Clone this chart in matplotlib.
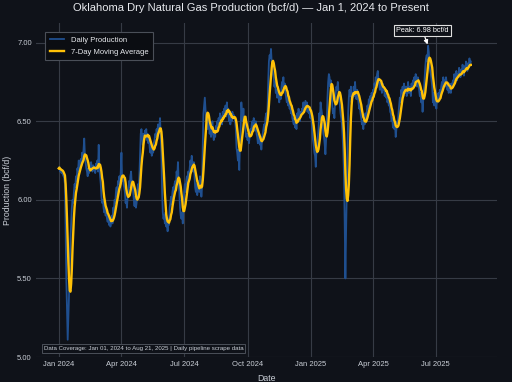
import numpy as np
import pandas as pd
import matplotlib
matplotlib.use("Agg")
import matplotlib.pyplot as plt
import matplotlib.dates as mdates

# Daily production, hundredths of bcf/d, one list per month
p2024_01 = [620,621,618,619,617,618,616,615,614,610,580,550,530,511,525,540,560,575,585,595,600,598,605,610,608,615,612,620,618,625,622]
p2024_02 = [620,626,622,630,625,632,639,628,624,620,618,615,620,617,622,619,624,620,618,622,619,621,617,623,620,625,618,635,620]
p2024_03 = [615,610,602,598,600,595,592,597,590,593,588,586,590,584,588,583,586,590,585,595,592,600,598,605,608,602,612,610,615,608,618]
p2024_04 = [630,612,615,610,608,605,598,600,595,602,605,612,608,615,618,610,612,605,600,596,602,595,598,605,610,605,615,628,642,645]
p2024_05 = [640,635,642,638,644,640,645,638,642,636,640,633,630,635,628,632,630,636,638,642,640,645,642,648,644,647,652,640,630,605,592]
p2024_06 = [588,590,585,592,583,586,580,588,584,595,598,602,597,605,608,603,610,612,608,618,615,624,612,605,595,590,588,592,585,595]
p2024_07 = [605,610,605,612,615,610,618,614,620,625,622,628,620,618,624,615,608,605,610,603,608,612,605,615,610,602,608,635,655,660,665]
p2024_08 = [658,650,655,645,652,648,642,646,640,645,650,642,638,644,640,647,643,650,646,652,648,655,650,653,648,656,652,658,655,660,653]
p2024_09 = [662,655,658,650,655,648,653,650,656,652,654,652,650,645,633,630,625,632,619,635,645,662,655,650,658,648,652,645,640,642]
p2024_10 = [638,642,636,640,645,642,648,650,645,652,647,644,650,642,640,636,642,638,635,640,632,638,642,645,648,644,652,655,650,658,675]
p2024_11 = [688,692,690,696,688,685,680,678,672,675,668,670,665,672,666,662,668,664,670,675,672,678,670,674,668,665,662,666,660,663]
p2024_12 = [658,660,655,657,652,650,648,652,646,650,645,655,652,658,654,650,656,653,658,655,662,657,660,663,658,662,656,660,655,658,652]
p2025_01 = [655,650,642,638,635,630,628,621,632,630,640,645,655,650,662,658,655,648,642,640,635,629,638,650,665,675,680,678,672,676,670]
p2025_02 = [660,655,658,652,662,668,672,670,675,668,665,660,655,652,648,640,630,615,585,550,580,605,630,655,665,670,666,672]
p2025_03 = [662,668,665,672,666,675,668,664,670,666,662,658,660,655,652,648,650,645,652,648,655,650,656,660,658,664,660,666,662,668,665]
p2025_04 = [670,668,674,672,678,675,680,682,676,674,670,675,672,668,674,670,672,666,670,665,668,662,665,660,662,656,655,650,652,646]
p2025_05 = [650,645,648,640,645,650,648,655,660,665,662,670,668,672,666,674,670,668,672,666,670,675,668,672,670,666,674,670,676,672,678]
p2025_06 = [674,680,676,672,678,674,670,666,668,662,665,656,664,670,678,685,690,692,688,698,694,686,682,680,676,672,662,668,660,664]
p2025_07 = [662,658,665,662,668,664,670,666,672,675,670,678,674,676,672,678,674,670,672,668,674,670,668,674,672,676,674,680,676,678,682]
p2025_08 = [676,680,678,684,680,678,683,680,686,682,679,685,682,688,684,682,687,684,690,686,688]

months = [p2024_01, p2024_02, p2024_03, p2024_04, p2024_05, p2024_06,
          p2024_07, p2024_08, p2024_09, p2024_10, p2024_11, p2024_12,
          p2025_01, p2025_02, p2025_03, p2025_04, p2025_05, p2025_06,
          p2025_07, p2025_08]
start_date = "2024-01-01"
series_names = ["Daily Production", "7-Day Moving Average"]
title_text = "Oklahoma Dry Natural Gas Production (bcf/d) \u2014 Jan 1, 2024 to Present"
coverage_text = "Data Coverage: Jan 01, 2024 to Aug 21, 2025 | Daily pipeline scrape data"

values = np.concatenate([np.array(m, dtype=float) for m in months]) / 100.0
dates = pd.date_range(start_date, periods=len(values), freq="D")
s = pd.Series(values, index=dates)
ma = s.rolling(7, min_periods=1).mean()

BG = "#0f1219"
GRID = "#363b45"
TXT = "#c9ced6"

plt.rcParams["font.family"] = ["Liberation Sans", "DejaVu Sans"]
fig = plt.figure(figsize=(5.12, 3.82), dpi=100, facecolor=BG)
ax = fig.add_axes([0.0703, 0.0654, 0.9004, 0.8744], facecolor=BG)

ax.plot(s.index, s.values, color="#1f4f8f", lw=1.3, label=series_names[0], zorder=2)
ax.plot(ma.index, ma.values, color="#ffc107", lw=1.7, label=series_names[1], zorder=3)

ax.set_ylim(5.0, 7.125)
ax.set_xlim(pd.Timestamp("2024-01-01") - pd.Timedelta(days=33),
             pd.Timestamp("2024-01-01") + pd.Timedelta(days=636))
ax.set_yticks([5.0, 5.5, 6.0, 6.5, 7.0])
ax.yaxis.set_major_formatter(matplotlib.ticker.FormatStrFormatter("%.2f"))
ax.xaxis.set_major_locator(mdates.MonthLocator(bymonth=[1, 4, 7, 10]))
ax.xaxis.set_major_formatter(mdates.DateFormatter("%b %Y"))
ax.grid(True, color=GRID, lw=0.8, zorder=0)
for sp in ax.spines.values():
    sp.set_visible(False)
ax.tick_params(length=0, colors=TXT, labelsize=5.5, pad=3)

fig.text(251 / 512, 1 - 8 / 382, title_text, color="#e8eaee", fontsize=8,
         ha="center", va="center")
ax.set_ylabel("Production (bcf/d)", color=TXT, fontsize=6.3, labelpad=4)
ax.set_xlabel("Date", color=TXT, fontsize=6.3, labelpad=4)

leg = ax.legend(loc="upper left", bbox_to_anchor=(0.012, 0.985), fontsize=5.5,
                facecolor="#0b0d12", edgecolor="#4a4f58", framealpha=1,
                labelcolor="#e8eaee", handlelength=1.9, borderpad=0.6,
                labelspacing=0.6, fancybox=False)
leg.get_frame().set_linewidth(0.8)

pk = s.idxmax()
ax.annotate(f"Peak: {s.max():.2f} bcf/d", xy=(pk, s.max()),
            xytext=(-4, 8.5), textcoords="offset points",
            ha="center", va="bottom", fontsize=5.2, color="#ffffff",
            bbox=dict(boxstyle="square,pad=0.25", fc=BG, ec="#e0e0e0", lw=0.8),
            arrowprops=dict(arrowstyle="-|>", color="#ffffff", lw=0.9,
                            mutation_scale=6, shrinkA=0, shrinkB=1), zorder=5)

ax.text(0.017, 0.018, coverage_text, transform=ax.transAxes, fontsize=4.4,
        color=TXT, ha="left", va="bottom",
        bbox=dict(boxstyle="square,pad=0.25", fc=BG, ec="#4a4f58", lw=0.7), zorder=5)

fig.savefig("out.png", dpi=100, facecolor=BG)
